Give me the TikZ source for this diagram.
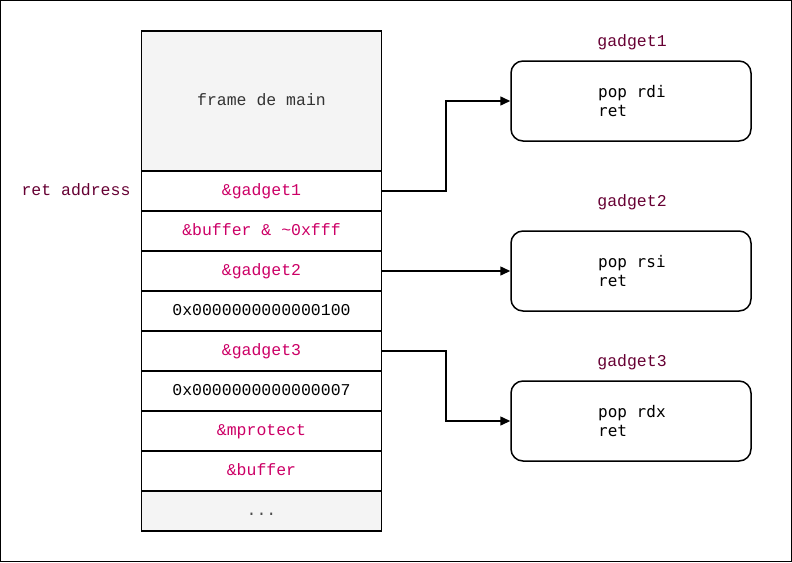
\documentclass[tikz,border=0pt]{standalone}
\usepackage{fontspec}
\setmainfont{Liberation Sans}
\setmonofont{Liberation Mono}
\newfontfamily\codefont{DejaVu Sans Mono}
\usetikzlibrary{arrows.meta}
\definecolor{cellpink}{HTML}{CC0066}
\definecolor{lblpurple}{HTML}{660033}
\definecolor{framegray}{HTML}{F4F4F4}
\begin{document}
\begin{tikzpicture}[x=1pt,y=-1pt,
  cell/.style={draw=black,line width=1.5pt,minimum width=240pt,minimum height=40pt,inner sep=0pt,text height=9pt,text depth=0pt,font=\ttfamily\fontsize{16.5}{19}\selectfont},
  gbox/.style={draw=black,line width=1.5pt,rounded corners=12pt,minimum width=240pt,minimum height=80pt,inner sep=0pt},
  lbl/.style={text=lblpurple,text height=9pt,text depth=0pt,font=\ttfamily\fontsize{16.5}{19}\selectfont},
  code/.style={font=\codefont\fontsize{16}{19}\selectfont,anchor=base west,inner sep=0pt},
  conn/.style={draw=black,line width=1.5pt,-{Triangle[length=10pt,width=9pt]}}]
\useasboundingbox (0,0) rectangle (792,562);
\draw[line width=1.2pt] (0.6,0.6) rectangle (791.4,561.4);
% stack
\node[cell,fill=framegray,minimum height=140pt,text=black!80] (main) at (261.5,101) {frame de main};
\node[cell,text=cellpink] (c1) at (261.5,191) {\&gadget1};
\node[cell,text=cellpink] (c2) at (261.5,231) {\&buffer \& \textasciitilde0xfff};
\node[cell,text=cellpink] (c3) at (261.5,271) {\&gadget2};
\node[cell,text=black] (c4) at (261.5,311) {0x0000000000000100};
\node[cell,text=cellpink] (c5) at (261.5,351) {\&gadget3};
\node[cell,text=black] (c6) at (261.5,391) {0x0000000000000007};
\node[cell,text=cellpink] (c7) at (261.5,431) {\&mprotect};
\node[cell,text=cellpink] (c8) at (261.5,471) {\&buffer};
\node[cell,fill=framegray,text=black!70] (c9) at (261.5,511) {...};
\node[lbl] (ra) at (76,191) {ret address};
% gadgets
\node[gbox] (g1) at (631,101) {};
\node[gbox] (g2) at (631,271) {};
\node[gbox] (g3) at (631,421) {};
\node[lbl] (l1) at (632,42) {gadget1};
\node[lbl] (l2) at (632,202) {gadget2};
\node[lbl] (l3) at (632,362) {gadget3};
\node[code] (t1a) at (598,97) {pop rdi};
\node[code] (t1b) at (598,116) {ret};
\node[code] (t2a) at (598,267) {pop rsi};
\node[code] (t2b) at (598,286) {ret};
\node[code] (t3a) at (598,417) {pop rdx};
\node[code] (t3b) at (598,436) {ret};
% connectors
\draw[conn] (c1.east) -- (446,191) -- (446,101) -- (g1.west);
\draw[conn] (c3.east) -- (g2.west);
\draw[conn] (c5.east) -- (446,351) -- (446,421) -- (g3.west);
\end{tikzpicture}
\end{document}
